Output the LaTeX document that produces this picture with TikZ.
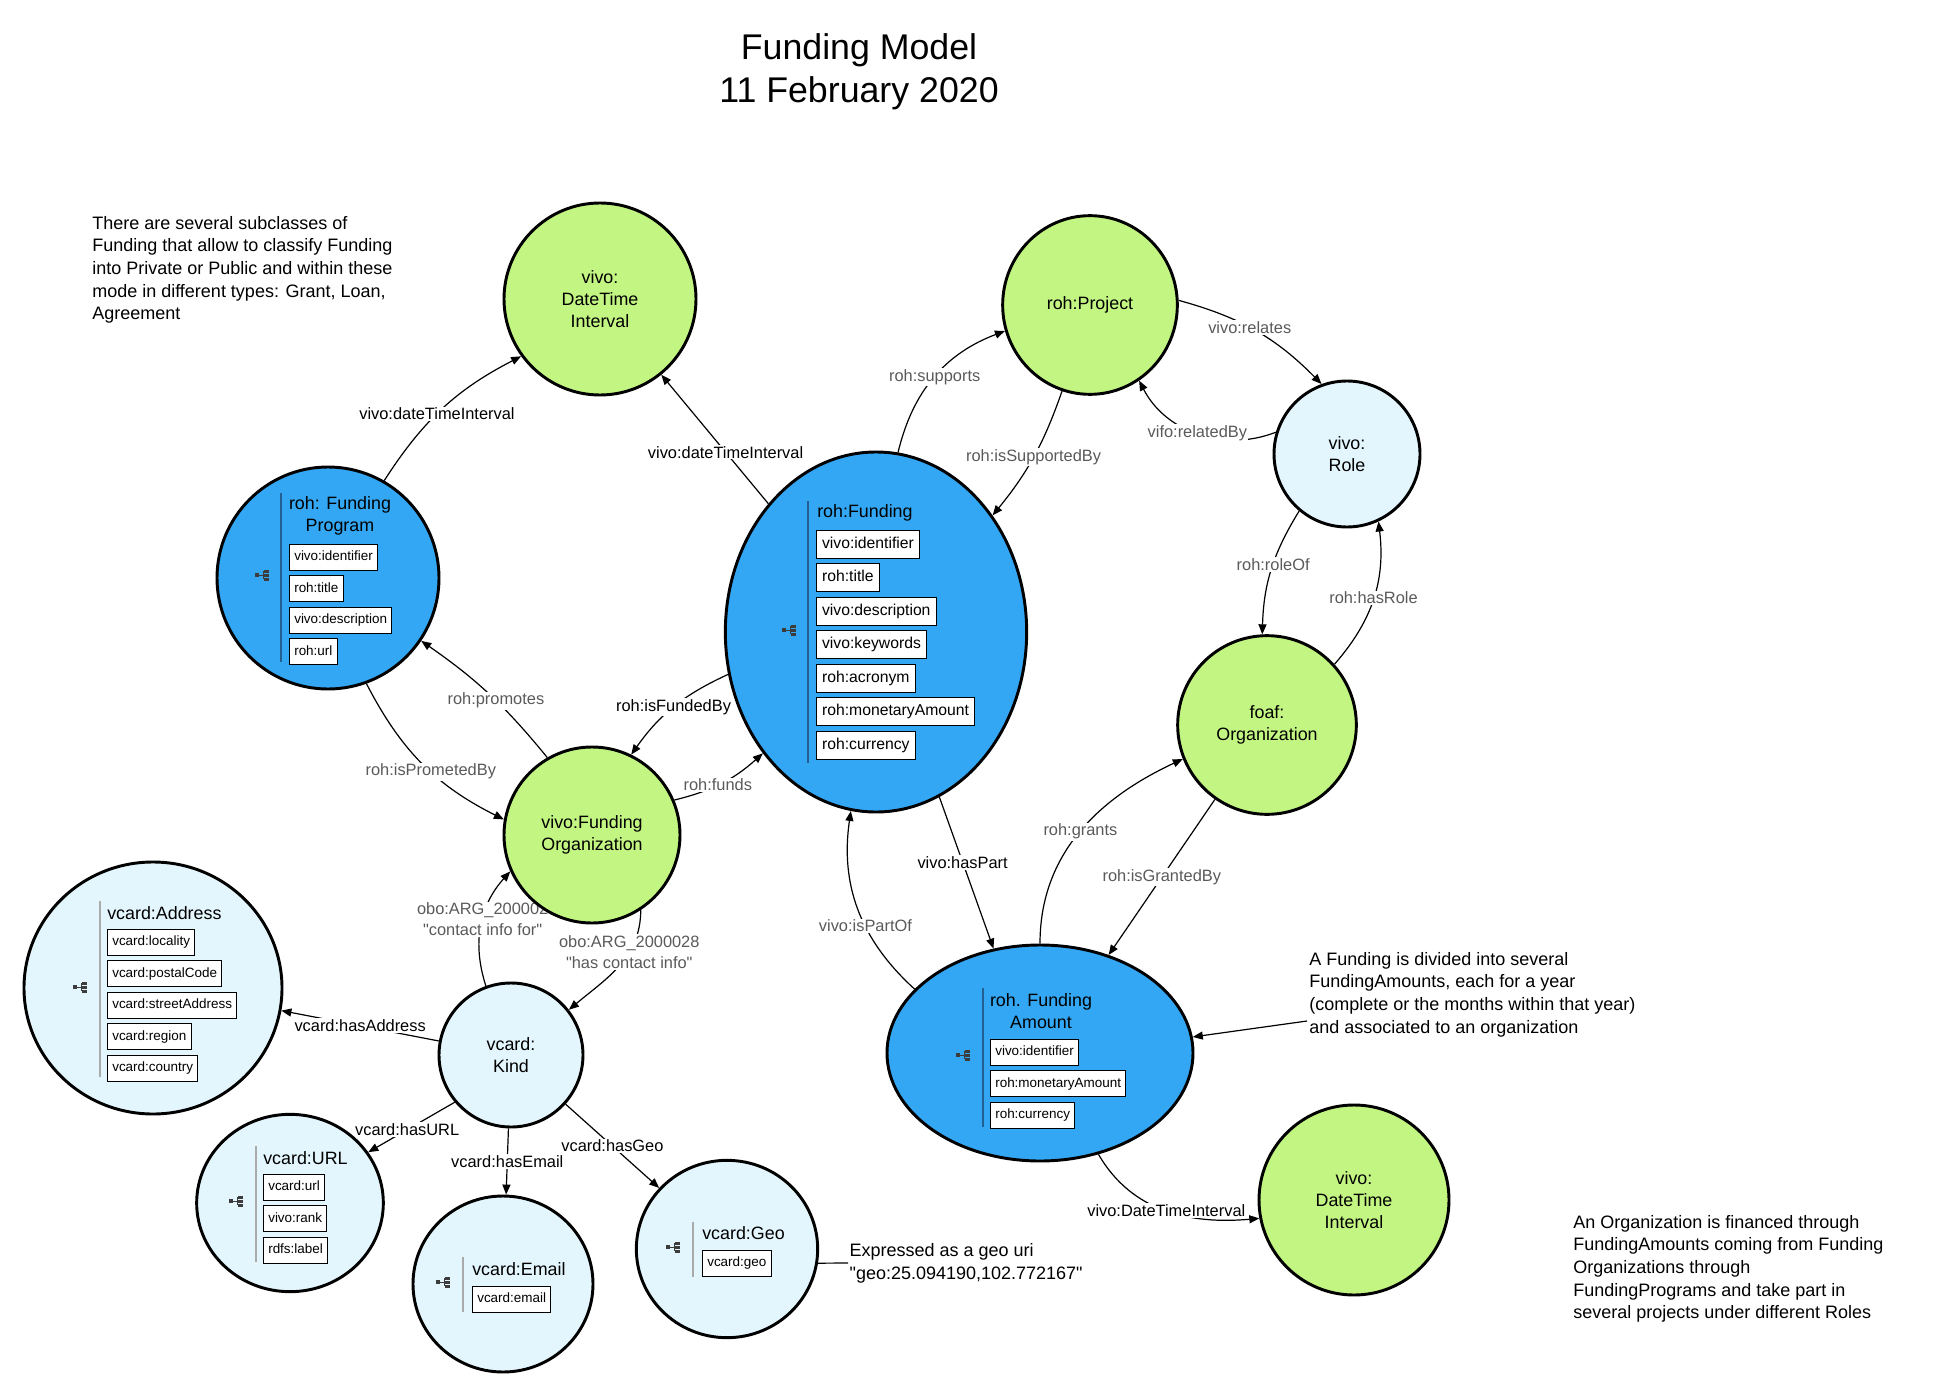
\documentclass[tikz,border=0pt]{standalone}
\usepackage{fontspec}
\setmainfont{Liberation Sans}[Ligatures=TeXOff]
\usetikzlibrary{arrows.meta,positioning,shapes.geometric}

\definecolor{fundblue}{RGB}{51,167,243}
\definecolor{leafgreen}{RGB}{195,245,130}
\definecolor{paleblue}{RGB}{228,246,253}
\definecolor{labgray}{RGB}{90,90,90}
\definecolor{sepblue}{RGB}{35,95,145}
\definecolor{sepgray}{RGB}{170,170,170}
\definecolor{icongray}{RGB}{60,60,60}

\pgfdeclarelayer{bg}
\pgfdeclarelayer{edges}
\pgfsetlayers{bg,edges,main}

% small tree icon left of a property list
\newcommand\treeicon[1]{%
  \begin{scope}[shift={#1}]
    \fill[icongray] (-9,-2) rectangle (-5,2);
    \draw[icongray, line width=0.4pt] (-5,0) -- (-1,0) (-1,-4) -- (-1,4);
    \fill[icongray] (0,-5.5) rectangle (5,-2.5);
    \fill[icongray] (0,-1.5) rectangle (5,1.5);
    \fill[icongray] (0,2.5) rectangle (5,5.5);
  \end{scope}}

\begin{document}
\begin{tikzpicture}[x=0.75pt, y=-0.75pt,
  cls/.style={draw, line width=2.2pt, inner sep=0pt, align=center,
    font=\fontsize{13.4}{16.4}\selectfont},
  blueoval/.style={cls, ellipse, fill=fundblue},
  greenball/.style={cls, circle, fill=leafgreen},
  paleball/.style={cls, ellipse, fill=paleblue},
  ctitle/.style={inner sep=0pt, align=center, font=\fontsize{13.4}{17}\selectfont},
  prop/.style={draw, fill=white, line width=0.7pt, inner xsep=3.6pt, inner ysep=0pt,
    minimum height=19.5pt, text height=7.4pt, text depth=2.2pt, anchor=north west,
    font=\fontsize{10.1}{12}\selectfont},
  bigprop/.style={prop, minimum height=21pt, inner xsep=4.2pt, text height=8.6pt,
    text depth=2.6pt, font=\fontsize{11.8}{14}\selectfont},
  stack/.style={below=3.4pt of #1.south west, anchor=north west},
  lbl/.style={fill=white, inner sep=1pt, align=center, font=\fontsize{12.3}{15.5}\selectfont},
  glbl/.style={lbl, text=labgray},
  note/.style={inner sep=0pt, align=left, font=\fontsize{13.5}{17}\selectfont},
  arrow/.style={-{Triangle[length=7.5pt,width=6pt]}, line width=0.9pt},
  sepline/.style={line width=1.2pt}
]

\begin{pgfonlayer}{bg}
\fill[white] (0,0) rectangle (1934,1398);
\end{pgfonlayer}
\useasboundingbox (0,0) rectangle (1934,1398);

\node[font=\fontsize{26.8}{32}\selectfont, align=center] (title) at (859,72)
  {Funding Model\\11 February 2020};

% notes
\node[note, anchor=north west] (subNote) at (92,216) {There are several subclasses of\\
Funding that allow to classify Funding\\into Private or Public and within these\\
mode in different types: Grant, Loan,\\Agreement};
\node[note, anchor=north west] (faNote) at (1309,952) {A Funding is divided into several\\
FundingAmounts, each for a year\\(complete or the months within that year)\\
and associated to an organization};
\node[note, anchor=north west] (orgNote) at (1573,1215) {An Organization is financed through\\
FundingAmounts coming from Funding\\Organizations through\\
FundingPrograms and take part in\\several projects under different Roles};
\node[note, anchor=west, inner sep=1pt] (geoNote) at (848,1263)
  {Expressed as a geo uri\\"geo:25.094190,102.772167"};

% classes
\node[greenball, minimum size=144pt] (dtia) at (600,299) {vivo:\\DateTime\\Interval};
\node[greenball, ellipse, minimum width=131pt, minimum height=134pt] (project) at (1090,305) {roh:Project};
\node[paleball, minimum size=109.5pt] (role) at (1347,454) {vivo:\\Role};
\node[blueoval, minimum size=166.5pt] (fprog) at (328,578) {};
\node[blueoval, minimum width=226pt, minimum height=270pt] (funding) at (876,632) {};
\node[greenball, minimum size=134pt] (org) at (1267,725) {foaf:\\Organization};
\node[greenball, minimum size=132pt] (forg) at (592,835) {vivo:Funding\\Organization};
\node[paleball, minimum width=193.5pt, minimum height=189pt] (addr) at (153,988) {};
\node[paleball, minimum size=108pt] (kind) at (511,1055) {vcard:\\Kind};
\node[blueoval, minimum width=229.5pt, minimum height=162pt] (famount) at (1040,1053) {};
\node[paleball, minimum width=140pt, minimum height=133pt] (url) at (290,1203) {};
\node[paleball, minimum width=135pt, minimum height=132pt] (email) at (503,1284) {};
\node[paleball, minimum width=136pt, minimum height=133pt] (geo) at (727,1249) {};
\node[greenball, minimum size=142.5pt] (dtib) at (1354,1200) {vivo:\\DateTime\\Interval};

% roh:FundingProgram
\draw[sepline, sepblue] (281,493) -- (281,662);
\treeicon{(264,575)}
\node[ctitle] (fprogT) at (340,516) {roh: Funding\\Program};
\node[prop] (fp1) at (289,544) {vivo:identifier};
\node[prop, stack=fp1] (fp2) {roh:title};
\node[prop, stack=fp2] (fp3) {vivo:description};
\node[prop, stack=fp3] (fp4) {roh:url};

% roh:Funding
\draw[sepline, sepblue] (808,501) -- (808,763);
\treeicon{(791,630)}
\node[ctitle, anchor=west] (fundT) at (817,513) {roh:Funding};
\node[bigprop] (fu1) at (816,530) {vivo:identifier};
\node[bigprop, stack=fu1] (fu2) {roh:title};
\node[bigprop, stack=fu2] (fu3) {vivo:description};
\node[bigprop, stack=fu3] (fu4) {vivo:keywords};
\node[bigprop, stack=fu4] (fu5) {roh:acronym};
\node[bigprop, stack=fu5] (fu6) {roh:monetaryAmount};
\node[bigprop, stack=fu6] (fu7) {roh:currency};

% roh.FundingAmount
\draw[sepline, sepblue] (983,988) -- (983,1127);
\treeicon{(965,1055)}
\node[ctitle] (famT) at (1041,1011) {roh. Funding\\Amount};
\node[prop] (fa1) at (990,1039) {vivo:identifier};
\node[prop, stack=fa1] (fa2) {roh:monetaryAmount};
\node[prop, stack=fa2] (fa3) {roh:currency};

% vcard:Address
\draw[sepline, sepgray] (100,901) -- (100,1077);
\treeicon{(82,987)}
\node[ctitle, anchor=west] (addrT) at (107,913) {vcard:Address};
\node[prop] (ad1) at (107,929) {vcard:locality};
\node[prop, stack=ad1] (ad2) {vcard:postalCode};
\node[prop, stack=ad2] (ad3) {vcard:streetAddress};
\node[prop, stack=ad3] (ad4) {vcard:region};
\node[prop, stack=ad4] (ad5) {vcard:country};

% vcard:URL
\draw[sepline, sepgray] (256,1146) -- (256,1262);
\treeicon{(238,1201)}
\node[ctitle, anchor=west] (urlT) at (263,1158) {vcard:URL};
\node[prop] (ur1) at (263,1174) {vcard:url};
\node[prop, stack=ur1] (ur2) {vivo:rank};
\node[prop, stack=ur2] (ur3) {rdfs:label};

% vcard:Email
\draw[sepline, sepgray] (463,1257) -- (463,1312);
\treeicon{(445,1282)}
\node[ctitle, anchor=west] (emailT) at (472,1269) {vcard:Email};
\node[prop] (em1) at (472,1286) {vcard:email};

% vcard:Geo
\draw[sepline, sepgray] (693,1222) -- (693,1277);
\treeicon{(675,1247)}
\node[ctitle, anchor=west] (geoT) at (702,1233) {vcard:Geo};
\node[prop] (geo1) at (702,1250) {vcard:geo};

\coordinate (faTip) at (1307,1021);

\begin{pgfonlayer}{edges}
\draw[arrow] (fprog.60) to[bend left=15] node[lbl, pos=.45] {vivo:dateTimeInterval} (dtia.216);
\draw[arrow] (funding.130) -- node[lbl, pos=.4] {vivo:dateTimeInterval} (dtia.309);
\draw[arrow] (funding.83) to[bend left=28] node[glbl] {roh:supports} (project.197);
\draw[arrow] (project.252) to[bend left=10] node[glbl] {roh:isSupportedBy} (funding.45);
\draw[arrow] (project.3) to[bend left=15] node[glbl, pos=.45] {vivo:relates} (role.110);
\draw[arrow] (role.163) to[bend left=42] node[glbl] {vifo:relatedBy} (project.303);
\draw[arrow] (role.230) to[bend right=15] node[glbl, pos=.45] {roh:roleOf} (org.93);
\draw[arrow] (org.42) to[bend right=24] node[glbl] {roh:hasRole} (role.295);
\draw[arrow] (fprog.290) to[bend right=18] node[glbl, pos=.56] {roh:isPrometedBy} (forg.170);
\draw[arrow] (forg.120) to[bend right=8] node[glbl, pos=.44] {roh:promotes} (fprog.326);
\draw[arrow] (funding.196) to[bend right=15] node[lbl] {roh:isFundedBy} (forg.64);
\draw[arrow] (forg.23) to[bend right=14] node[glbl, pos=.45] {roh:funds} (funding.227);
\draw[arrow] (kind.110) to[bend left=30] node[glbl, pos=.55] {obo:ARG\_200002\\"contact info for"} (forg.204);
\draw[arrow] (forg.303) to[out=-90, in=40] node[glbl, pos=.35] {obo:ARG\_2000028\\"has contact info"} (kind.38);
\draw[arrow] (kind.169) -- node[lbl] {vcard:hasAddress} (addr.-10);
\draw[arrow] (kind.220) -- node[lbl, pos=.55] {vcard:hasURL} (url.33);
\draw[arrow] (kind.268) -- node[lbl] {vcard:hasEmail} (email.88);
\draw[arrow] (kind.318) -- node[lbl] {vcard:hasGeo} (geo.138);
\draw[arrow] (funding.291) -- node[lbl, pos=.43] {vivo:hasPart} (famount.114);
\draw[arrow] (famount.153) to[bend left=28] node[glbl, pos=.4] {vivo:isPartOf} (funding.262);
\draw[arrow] (famount.90) to[out=90, in=205] node[glbl] {roh:grants} (org.202);
\draw[arrow] (org.235) -- node[glbl] {roh:isGrantedBy} (famount.55);
\draw[arrow] (famount.-60) to[out=-60, in=185] node[lbl, pos=.5] {vivo:DateTimeInterval} (dtib.191);
\draw[arrow] (faTip) -- (famount.6);
\draw[arrow] (geoNote.west) -- (geo1.east);
\end{pgfonlayer}

\end{tikzpicture}
\end{document}
